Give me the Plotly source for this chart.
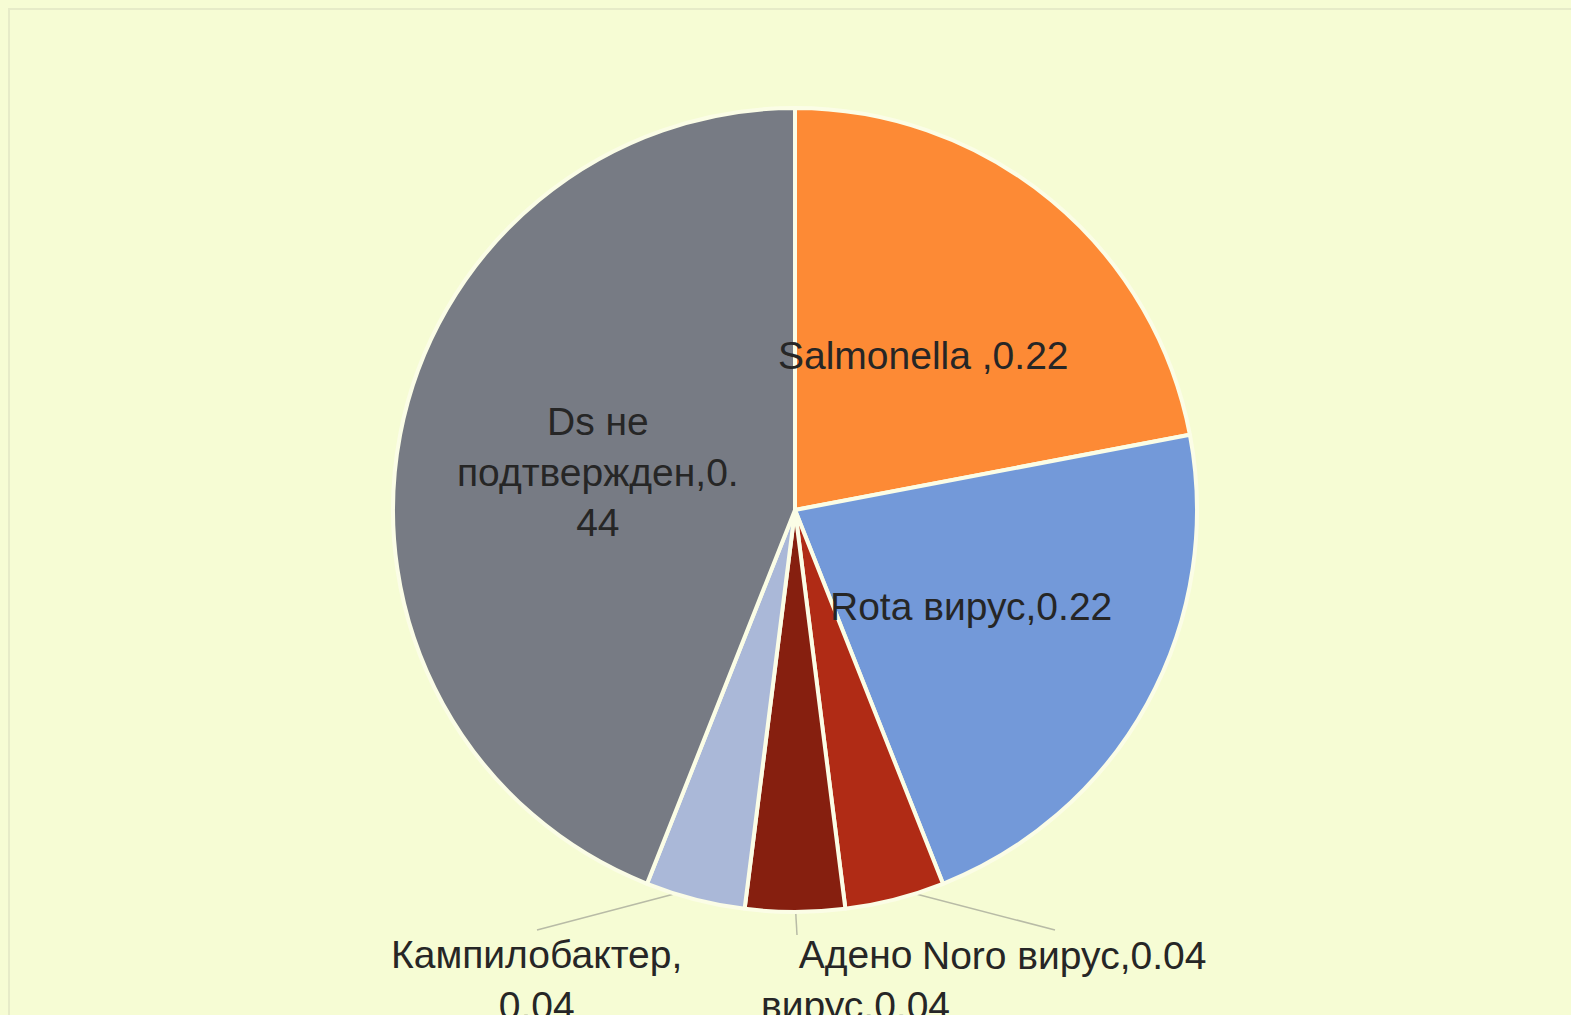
import math
import plotly.graph_objects as go

# Share of confirmed pathogens
names = ["Salmonella ", "Rota вирус", "Noro вирус", "Адено вирус", "Кампилобактер", "Ds не подтвержден"]
values = [0.22, 0.22, 0.04, 0.04, 0.04, 0.44]
colors = ["#FD8A35", "#7399D9", "#B02B15", "#861F0F", "#AAB8D8", "#777B84"]

# how each label is broken into lines
label_lines = {
    "Salmonella ": ["Salmonella ,{v}"],
    "Rota вирус": ["Rota вирус,{v}"],
    "Noro вирус": ["Noro вирус,{v}"],
    "Адено вирус": ["Адено", "вирус,{v}"],
    "Кампилобактер": ["Кампилобактер,", "{v}"],
    "Ds не подтвержден": ["Ds не", "подтвержден,0.", "{tail}"],
}
inside = {"Salmonella ", "Rota вирус", "Ds не подтвержден"}

W, H = 1571, 1015
CX, CY, R = 795, 510, 402
BG = "#F6FCD4"
FONT = dict(family="Liberation Sans, Arial, sans-serif", size=39, color="#262626")

# where outside labels sit (centre of text block) and where their leader lines end
outside_pos = {
    "Noro вирус": dict(x=1064, y=955, lx=1055, ly=930),
    "Адено вирус": dict(x=855, y=980, lx=797, ly=935),
    "Кампилобактер": dict(x=536, y=980, lx=537, ly=930),
}

fig = go.Figure()
fig.add_trace(go.Pie(
    labels=names,
    values=values,
    sort=False,
    direction="clockwise",
    rotation=0,
    marker=dict(colors=colors, line=dict(color="#FBFDE6", width=4)),
    textinfo="none",
    hoverinfo="label+value",
    showlegend=False,
    domain=dict(x=[(CX - R) / W, (CX + R) / W], y=[1 - (CY + R) / H, 1 - (CY - R) / H]),
))

annotations = []
shapes = []
total = sum(values)
start = 0.0
for name, v in zip(names, values):
    mid = (start + v / 2) / total * 2 * math.pi
    start += v
    vs = f"{v:.2f}"
    text = "<br>".join(l.format(v=vs, tail=vs.split(".")[1]) for l in label_lines[name])
    if name in inside:
        x = CX + 0.5 * R * math.sin(mid)
        y = CY - 0.5 * R * math.cos(mid)
        annotations.append(dict(x=x, y=y, xref="x", yref="y", text=text, showarrow=False,
                                font=FONT, xanchor="center", yanchor="middle"))
    else:
        p = outside_pos[name]
        x0 = CX + (R - 12) * math.sin(mid)
        y0 = CY - (R - 12) * math.cos(mid)
        shapes.append(dict(type="line", xref="x", yref="y", x0=x0, y0=y0, x1=p["lx"], y1=p["ly"],
                           line=dict(color="#B8BBA6", width=1.5), layer="below"))
        annotations.append(dict(x=p["x"], y=p["y"], xref="x", yref="y", text=text, showarrow=False,
                                font=FONT, xanchor="center", yanchor="middle"))

# faint frame around the chart area
shapes.append(dict(type="rect", xref="x", yref="y", x0=9, y0=9, x1=W + 20, y1=H + 20,
                   line=dict(color="#E6EBC8", width=2), fillcolor="rgba(0,0,0,0)", layer="below"))

fig.update_layout(
    width=W, height=H,
    margin=dict(l=0, r=0, t=0, b=0),
    paper_bgcolor=BG, plot_bgcolor=BG,
    xaxis=dict(range=[0, W], visible=False, fixedrange=True),
    yaxis=dict(range=[H, 0], visible=False, fixedrange=True),
    annotations=annotations,
    shapes=shapes,
)

fig.write_html("out.html")
